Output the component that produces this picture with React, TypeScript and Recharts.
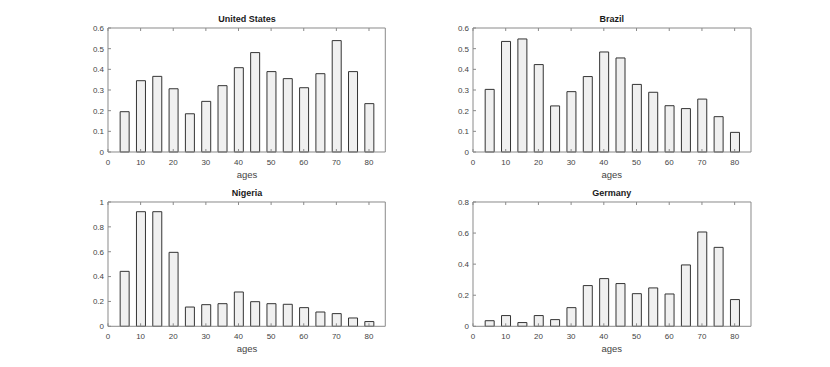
import React from 'react';
import { BarChart, Bar, XAxis, YAxis } from 'recharts';

const ages = [5, 10, 15, 20, 25, 30, 35, 40, 45, 50, 55, 60, 65, 70, 75, 80];
const xTicks = [0, 10, 20, 30, 40, 50, 60, 70, 80];

const usValues = [0.195, 0.345, 0.366, 0.306, 0.185, 0.245, 0.321, 0.408, 0.481, 0.389, 0.355, 0.311, 0.379, 0.539, 0.389, 0.234];
const brazilValues = [0.303, 0.535, 0.547, 0.423, 0.223, 0.292, 0.365, 0.484, 0.455, 0.327, 0.289, 0.224, 0.21, 0.256, 0.171, 0.095];
const nigeriaValues = [0.442, 0.922, 0.922, 0.595, 0.155, 0.174, 0.182, 0.276, 0.198, 0.182, 0.177, 0.15, 0.115, 0.102, 0.067, 0.038];
const germanyValues = [0.036, 0.069, 0.024, 0.069, 0.043, 0.12, 0.262, 0.307, 0.275, 0.21, 0.247, 0.208, 0.395, 0.607, 0.508, 0.172];

const ticks06 = [0, 0.1, 0.2, 0.3, 0.4, 0.5, 0.6];
const ticks10 = [0, 0.2, 0.4, 0.6, 0.8, 1];
const ticks08 = [0, 0.2, 0.4, 0.6, 0.8];

const FONT = 'Liberation Sans, Arial, Helvetica, sans-serif';
const AXIS = '#8a8a8a';
const TEXT = '#444';

const ML = 48; // space left of plot inside chart
const MT = 18;
const MR = 10;
const XH = 30;

type PanelProps = {
  title: string;
  values: number[];
  yTicks: number[];
  yMax: number;
  plotLeft: number;
  plotTop: number;
  plotW: number;
  plotH: number;
};

function Panel({ title, values, yTicks, yMax, plotLeft, plotTop, plotW, plotH }: PanelProps) {
  const data = ages.map((a, i) => ({ age: a, v: values[i] }));
  const W = ML + plotW + MR;
  const H = MT + plotH + XH;
  const tickStyle = { fontSize: 8, fill: TEXT, fontFamily: FONT };
  return (
    <>
      <div
        style={{
          position: 'absolute',
          left: plotLeft,
          width: plotW,
          top: plotTop - 14,
          textAlign: 'center',
          fontFamily: FONT,
          fontWeight: 'bold',
          fontSize: 9,
          lineHeight: '10px',
          color: '#1a1a1a',
        }}
      >
        {title}
      </div>
      <div
        style={{
          position: 'absolute',
          left: plotLeft,
          width: plotW,
          top: plotTop + plotH + 18,
          textAlign: 'center',
          fontFamily: FONT,
          fontSize: 9.5,
          lineHeight: '10px',
          color: TEXT,
        }}
      >
        ages
      </div>
      <div style={{ position: 'absolute', left: plotLeft - ML, top: plotTop - MT }}>
        <BarChart
          width={W}
          height={H}
          data={data}
          margin={{ top: MT - 2, right: MR - 2, left: ML - 30, bottom: 0 }}
        >
          <XAxis
            xAxisId="b"
            dataKey="age"
            type="number"
            domain={[0, 85]}
            ticks={xTicks}
            allowDataOverflow
            height={XH}
            stroke={AXIS}
            tick={tickStyle}
            tickSize={-3}
            tickMargin={10}
            interval={0}
          />
          <XAxis
            xAxisId="t"
            dataKey="age"
            type="number"
            orientation="top"
            domain={[0, 85]}
            ticks={xTicks}
            allowDataOverflow
            height={2}
            stroke={AXIS}
            tickSize={-3}
            tickFormatter={() => ''}
            interval={0}
          />
          <YAxis
            yAxisId="l"
            domain={[0, yMax]}
            ticks={yTicks}
            width={30}
            stroke={AXIS}
            tick={tickStyle}
            tickSize={-3}
            tickMargin={7}
            interval={0}
          />
          <YAxis
            yAxisId="r"
            orientation="right"
            domain={[0, yMax]}
            ticks={yTicks}
            width={2}
            stroke={AXIS}
            tickSize={-3}
            tickFormatter={() => ''}
            interval={0}
          />
          <Bar
            xAxisId="b"
            yAxisId="l"
            dataKey="v"
            fill="#f0f0f0"
            stroke="#333"
            strokeWidth={1}
            barSize={9}
            isAnimationActive={false}
          />
        </BarChart>
      </div>
    </>
  );
}

export default function App() {
  return (
    <div style={{ position: 'absolute', left: 0, top: 0, width: 830, height: 367, background: '#fff', overflow: 'hidden' }}>
      <Panel title="United States" values={usValues} yTicks={ticks06} yMax={0.6} plotLeft={108.3} plotTop={27.7} plotW={277.3} plotH={124} />
      <Panel title="Brazil" values={brazilValues} yTicks={ticks06} yMax={0.6} plotLeft={472.7} plotTop={27.7} plotW={278} plotH={124} />
      <Panel title="Nigeria" values={nigeriaValues} yTicks={ticks10} yMax={1} plotLeft={108.3} plotTop={201.7} plotW={277.3} plotH={124.3} />
      <Panel title="Germany" values={germanyValues} yTicks={ticks08} yMax={0.8} plotLeft={472.7} plotTop={201.7} plotW={278} plotH={124.3} />
    </div>
  );
}
